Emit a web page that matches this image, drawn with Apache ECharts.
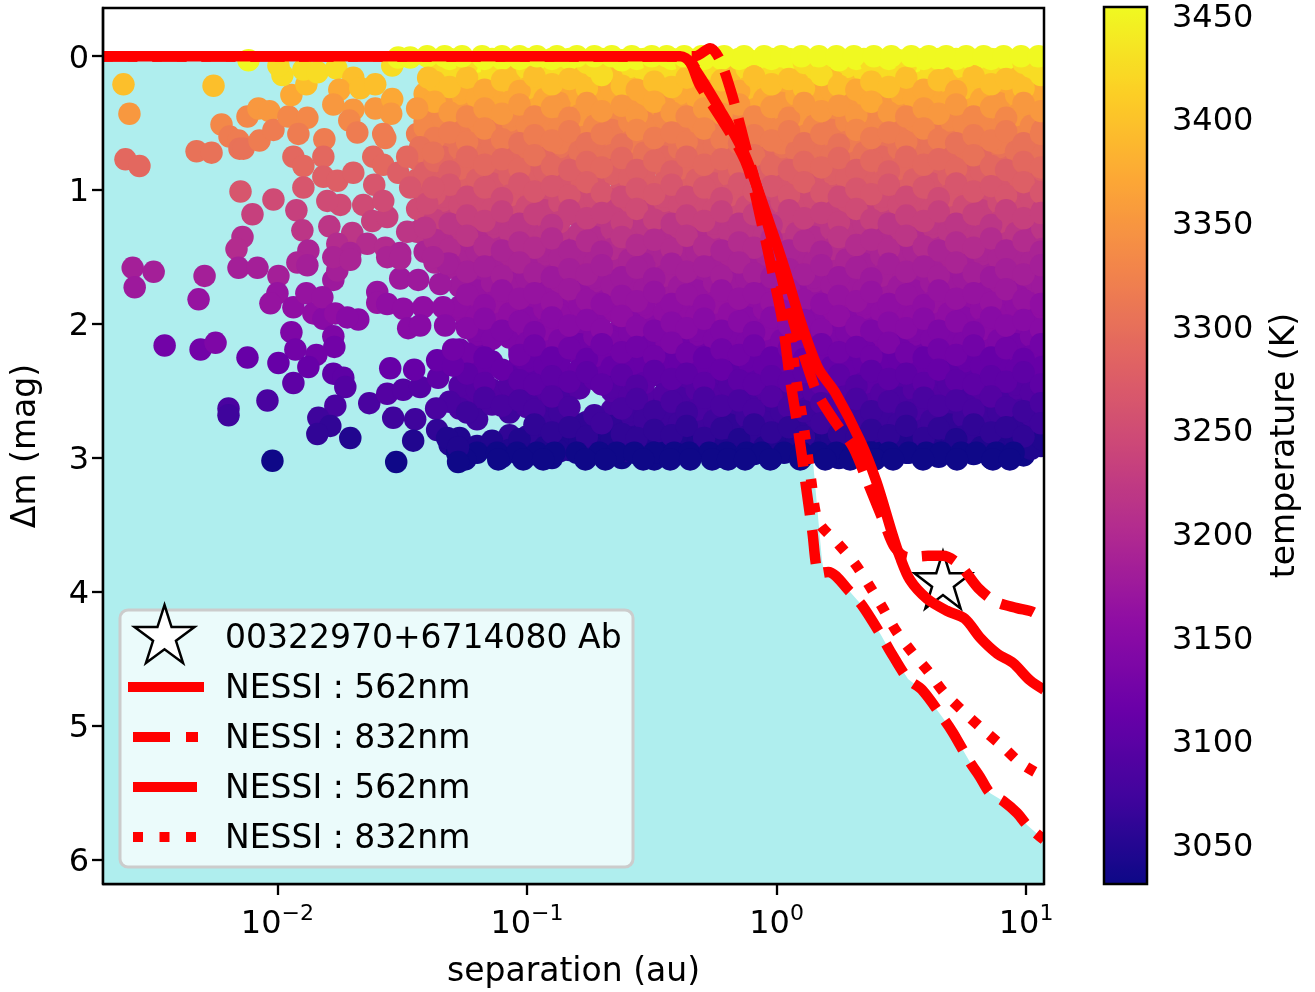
<!DOCTYPE html>
<html><head><meta charset="utf-8">
<script src="https://cdn.jsdelivr.net/npm/echarts@6/dist/echarts.min.js"></script>
<style>html,body{margin:0;padding:0;background:#fff}#c{width:1315px;height:992px}</style>
</head><body><div id="c"></div>
<script>
// All separations are log10(au), all contrasts are magnitudes.
const xMajor = [0.01, 0.1, 1, 10];
const xMinor = [0.003,0.004,0.005,0.006,0.007,0.008,0.009,0.02,0.03,0.04,0.05,0.06,0.07,0.08,0.09,0.2,0.3,0.4,0.5,0.6,0.7,0.8,0.9,2,3,4,5,6,7,8,9];
const yTicks = [0,1,2,3,4,5,6];
const tempTicks = [3050,3100,3150,3200,3250,3300,3350,3400,3450];
const plasma = ['#0d0887','#41049d','#6a00a8','#8f0da4','#b12a90','#cc4778','#e16462','#f2844b','#fca636','#fcce25','#f0f921'];

// temperature (K) seen at each 0.1 mag of contrast
const rowTemp = [3454,3425,3396,3372,3352,3332,3316,3303,3290,3277,3264,3248,3233,3218,3203,3192,3184,3175,3167,3159,3150,3138,3125,3113,3103,3093,3083,3072,3060,3047,3033,3033];

// dense part of the cloud, estimated: one row per 0.1 mag, filled from rowStart rightwards
const rowStart = [-1.40,-1.40,-1.38,-1.41,-1.42,-1.44,-1.42,-1.44,-1.41,-1.45,-1.42,-1.40,-1.44,-1.45,-1.42,-1.40,-1.33,-1.30,-1.27,-1.30,-1.25,-1.23,-1.27,-1.25,-1.27,-1.24,-1.32,-1.08,-1.08,-1.33];
const colsA = [-1.51,-1.44,-1.37,-1.31,-1.24,-1.17,-1.10,-1.03,-0.97,-0.90,-0.83,-0.76,-0.70,-0.62,-0.56,-0.49,-0.42,-0.36,-0.29,-0.22,-0.15,-0.09,-0.02,0.05,0.11,0.18,0.25,0.32,0.38,0.45,0.52,0.59,0.65,0.72,0.79,0.86,0.92,0.99,1.06];
const colsB = [-1.48,-1.41,-1.34,-1.27,-1.20,-1.14,-1.07,-1.00,-0.93,-0.87,-0.79,-0.73,-0.66,-0.59,-0.53,-0.45,-0.39,-0.32,-0.25,-0.19,-0.12,-0.05,0.02,0.08,0.15,0.22,0.28,0.35,0.42,0.49,0.55,0.62,0.69,0.75,0.82,0.89,0.96,1.02,1.065];
const colShift = [.03,-.04,.05,-.02,.06,-.05,.01,-.03,.04,-.06,.02,.05,-.01];
// openings visible in the cloud: [row, from log10 sep, to log10 sep]
const holes = [[21,-1.13,-1.06],[22,-1.13,-1.06],[23,-1.13,-1.06],[25,-.8,-.7],[26,-.8,-.7],[27,-1.09,-.97]];
const topRow = [-1.40,-1.33,-1.26,-1.18,-1.1,-1.03,-.96,-.88,-.8,-.73,-.66,-.58,-.5,-.44,-.37,-.3,-.21,-.13,-.05,.02,.1,.17,.24,.31,.39,.46,.54,.61,.68,.76,.83,.91,.98,1.05];
const lastRow = [-1.28,-1.2,-1.12,-1.04,-.96,-.89,-.8,-.71,-.64,-.57,-.49,-.41,-.35,-.27,-.2,-.12,-.06,.03,.1,.17,.24,.31,.38,.45,.53,.6,.66,.74,.8,.88,.95];
const bottomRow = [-1.247,-1.115,-1.015,-0.935,-0.766,-0.686,-0.534,-0.426,-0.346,-0.258,-0.194,-0.126,-0.025,0.095,0.195,0.295,0.395,0.467,0.587,0.723,0.867,0.935];

// sparse points at the left of the cloud: [log10 sep, dm]
const sparse = [[-2.617,.21],[-2.256,.22],[-2.116,.03],[-2.593,.43],[-2.609,.77],[-2.553,.82],[-2.324,.71],[-2.264,.72],[-2.224,.51],[-2.192,.60],[-2.156,.63],[-2.152,.69],[-2.136,.69],[-2.072,.63],[-2.12,.45],[-2.076,.39],[-2.032,.41],[-2.016,.55],[-1.956,.45],[-1.88,.46],[-1.916,.58],[-1.944,.29],[-1.884,.21],[-1.98,.14],[-1.996,.07],[-1.896,.10],[-1.84,.12],[-1.764,.09],[-1.696,.16],[-1.752,.25],[-1.776,.36],[-1.668,.24],[-1.608,.21],[-1.696,.40],[-1.712,.48],[-1.68,.57],[-1.608,.39],[-1.54,.32],[-1.544,.43],[-1.812,.62],[-1.816,.75],[-1.936,.75],[-1.896,.82],[-1.816,.90],[-1.76,.93],[-1.696,.87],[-1.616,.75],[-1.576,.81],[-1.516,.87],[-1.568,.61],[-1.576,.58],[-1.612,.96],[-1.896,.98],[-1.748,1.11],[-1.8,1.08],[-1.656,1.11],[-2.148,1.01],[-2.016,1.07],[-2.1,1.18],[-1.924,1.15],[-1.9,1.30],[-1.792,1.27],[-2.14,1.35],[-2.164,1.44],[-1.876,1.45],[-1.7,1.32],[-1.62,1.23],[-1.56,1.20],[-1.576,1.08],[-1.48,1.31],[-1.408,1.28],[-1.76,1.40],[-1.64,1.40],[-1.568,1.43],[-1.508,1.47],[-1.708,1.47],[-1.4,1.10],[-1.468,.98],[-1.376,.98],[-1.428,.68],[-1.376,.72],[-1.48,.75],[-1.44,.39],[-1.396,.16],[-1.54,.07],[-1.516,.01],[-1.468,.01],
[-2.58,1.58],[-2.572,1.725],[-2.496,1.61],[-2.292,1.64],[-2.316,1.815],[-2.452,2.16],[-2.308,2.19],[-2.248,2.14],[-2.12,2.25],[-2.04,2.57],[-2.196,2.63],[-2.196,2.68],[-2.02,3.02],[-1.524,3.03],[-2.156,1.58],[-2.08,1.58],[-1.996,1.64],[-2,1.77],[-2.028,1.845],[-1.936,1.875],[-1.884,1.77],[-1.92,1.54],[-1.88,1.56],[-1.776,1.67],[-1.76,1.60],[-1.856,1.92],[-1.816,1.96],[-1.82,1.80],[-1.768,1.92],[-1.676,1.965],[-1.72,1.95],[-1.944,2.06],[-1.928,2.19],[-1.776,2.09],[-1.772,2.17],[-1.844,2.23],[-1.876,2.32],[-1.996,2.29],[-1.936,2.44],[-1.776,2.37],[-1.736,2.40],[-1.728,2.47],[-1.768,2.61],[-1.836,2.70],[-1.788,2.76],[-1.84,2.82],[-1.708,2.85],[-1.632,2.59],[-1.56,2.52],[-1.496,2.49],[-1.428,2.47],[-1.548,2.33],[-1.452,2.34],[-1.536,2.70],[-1.448,2.71],[-1.456,2.87],[-1.364,2.63],[-1.36,2.79],[-1.32,2.85],[-1.276,2.92],[-1.276,3.03],[-1.356,2.40],[-1.36,2.27],[-1.296,2.31],[-1.296,2.19],[-1.6,1.76],[-1.6,1.84],[-1.56,1.85],[-1.496,1.885],[-1.416,1.875],[-1.336,1.875],[-1.476,2.03],[-1.428,2.01],[-1.328,2.01],[-1.508,1.66],[-1.436,1.67],[-1.348,1.70],[-1.32,1.55],[-1.776,1.50],[-1.708,1.52],[-1.56,1.50],[-1.508,1.51],[-1.376,1.50]];

// detection limits: [log10 sep, dm]
const solid562 = [[-2.697,0],[-.386,0],[-.346,.045],[-.226,.40],[-.126,.74],[-.026,1.26],[.035,1.60],[.095,1.97],[.167,2.33],[.235,2.51],[.335,2.87],[.399,3.17],[.463,3.56],[.495,3.74],[.535,3.91],[.603,4.05],[.683,4.14],[.755,4.20],[.815,4.34],[.884,4.46],[.948,4.53],[1.016,4.66],[1.072,4.73]];
const dashed832 = [[-2.697,0],[-.378,0],[-.326,0],[-.266,-.06],[-.226,.03],[-.178,.29],[-.126,.66],[-.098,.85],[-.018,1.37],[.055,1.90],[.123,2.31],[.167,2.53],[.235,2.73],[.307,2.92],[.367,3.19],[.435,3.50],[.475,3.67],[.527,3.74],[.607,3.73],[.667,3.73],[.735,3.80],[.808,3.97],[.876,4.07],[.964,4.12],[1.028,4.15],[1.072,4.21]];
const lowerDashed = [[-2.697,0],[-.378,0],[-.306,.22],[-.126,.78],[-.058,1.26],[-.018,1.60],[.023,1.97],[.055,2.42],[.087,2.79],[.115,3.17],[.143,3.54],[.171,3.86],[.207,3.85],[.295,4.00],[.343,4.10],[.415,4.31],[.455,4.44],[.527,4.65],[.583,4.73],[.667,4.94],[.707,5.05],[.775,5.27],[.815,5.38],[.855,5.50],[.908,5.56],[.964,5.65],[1.004,5.74],[1.072,5.85]];
const lowerDotted = [[-2.697,0],[-.378,0],[-.286,.25],[-.114,.78],[-.042,1.26],[.003,1.60],[.047,1.97],[.079,2.42],[.111,2.79],[.139,3.17],[.167,3.47],[.247,3.64],[.315,3.79],[.371,3.95],[.423,4.11],[.479,4.29],[.543,4.45],[.607,4.59],[.671,4.75],[.747,4.89],[.823,5.02],[.904,5.15],[.980,5.28],[1.072,5.38]];
const fillEdge = [[-2.697,0],[-.38,0],[-.126,.78],[.023,1.97],[.087,2.79],[.147,3.04],[.182,3.76],[.19,3.85],[.295,4.00],[.343,4.10],[.415,4.31],[.455,4.44],[.527,4.65],[.583,4.73],[.667,4.94],[.707,5.05],[.775,5.27],[.815,5.38],[.855,5.50],[.908,5.56],[.964,5.65],[1.004,5.74],[1.072,5.85]];
const starPoint = [0.667, 3.91];
const starName = '00322970+6714080 Ab';
const legendNames = ['NESSI : 562nm','NESSI : 832nm','NESSI : 562nm','NESSI : 832nm'];

const FONT = 'DejaVu Sans';
const STAR = 'M50 0L61.2 34.5L97.6 34.5L68.2 55.9L79.4 90.5L50 69.1L20.6 90.5L31.8 55.9L2.4 34.5L38.8 34.5Z';
const STAR_OUTLINE = [[50,0],[61.2,34.5],[97.6,34.5],[68.2,55.9],[79.4,90.5],[50,69.1],[20.6,90.5],[31.8,55.9],[2.4,34.5],[38.8,34.5]];
const toAu = p => [Math.pow(10, p[0]), p[1]];

const cloud = [];
const addRow = (r, cols, offset) => {
  cols.forEach((c, i) => {
    if (c < rowStart[r]) return;
    if (holes.some(h => h[0] === r && c >= h[1] && c <= h[2])) return;
    const dm = Math.max(0.02, r / 10 + offset + colShift[(i + r * 5) % colShift.length]);
    cloud.push([Math.pow(10, c), dm, rowTemp[Math.round(dm * 10)]]);
  });
};
for (let r = rowStart.length - 1; r >= 0; r -= 2) addRow(r, colsA, 0.05);
for (let r = rowStart.length - 2; r >= 0; r -= 2) addRow(r, colsB, 0.05);
for (let r = 1; r < rowStart.length; r += 2) addRow(r, colsB, 0);
for (let r = 0; r < rowStart.length; r += 2) addRow(r, colsA, 0);
topRow.forEach(c => cloud.push([Math.pow(10, c), 0.0, rowTemp[0]]));
lastRow.forEach(c => cloud.push([Math.pow(10, c), 2.96, rowTemp[30]]));
bottomRow.forEach(c => cloud.push([Math.pow(10, c), 3.01, rowTemp[30]]));
sparse.forEach(p => cloud.push([Math.pow(10, p[0]), p[1], rowTemp[Math.round(p[1] * 10)]]));

const redLine = (name, data, type) => ({
  name, type: 'line', data: data.map(toAu), symbol: 'none', z: 4, silent: true,
  smooth: 0.3,
  lineStyle: { color: '#ff0000', width: 10.5, type, cap: 'butt', join: 'round' }
});

const chart = echarts.init(document.getElementById('c'), null, { renderer: 'canvas' });
const txt = { color: '#000', fontFamily: FONT };
const tickLine = { color: '#000', width: 2.3 };
const nudged = { n: { ...txt, fontSize: 32, padding: [6, 0, 0, 0] } };

const legendY = [637, 687, 737, 787, 837];
const legendText = [starName].concat(legendNames).map((t, i) => ({
  type: 'text', z: 7, style: { x: 225, y: legendY[i] + 2, text: t, fill: '#000', font: '33px "DejaVu Sans"', verticalAlign: 'middle' }
}));
const legLine = (x1, x2, y, dash) => ({
  type: 'line', z: 7, shape: { x1, y1: y, x2, y2: y },
  style: { stroke: '#ff0000', lineWidth: 10, lineDash: dash || null }
});

chart.setOption({
  animation: false,
  backgroundColor: '#fff',
  textStyle: { fontFamily: FONT },
  grid: [
    { left: 103, top: 8, width: 941, height: 876, show: true, backgroundColor: 'transparent', borderColor: '#000', borderWidth: 2.5, z: 10, containLabel: false, outerBoundsMode: 'none' },
    { left: 1104, top: 7, width: 43, height: 877, show: true, backgroundColor: 'transparent', borderColor: '#000', borderWidth: 2.5, z: 10, containLabel: false, outerBoundsMode: 'none' }
  ],
  xAxis: [
    { type: 'log', gridIndex: 0, position: 'bottom', logBase: 10, min: 0.002, max: 11.8,
      name: 'separation (au)', nameLocation: 'middle', nameGap: 72,
      nameTextStyle: { ...txt, fontSize: 33 },
      axisLine: { show: true, onZero: false, lineStyle: tickLine },
      axisTick: { show: true, length: 11, lineStyle: tickLine, customValues: xMajor },
      axisLabel: { show: true, customValues: xMajor, margin: 19, ...txt, fontSize: 32,
        formatter: v => '10{s|' + String(Math.round(Math.log10(v))).replace('-', '\u2212') + '}',
        rich: { s: { ...txt, fontSize: 22, verticalAlign: 'top', lineHeight: 44, padding: [0, 0, 14, 0] } } },
      splitLine: { show: false }, minorTick: { show: false }, minorSplitLine: { show: false } },
    { type: 'log', gridIndex: 0, position: 'bottom', logBase: 10, min: 0.002, max: 11.8,
      axisLine: { show: false },
      axisTick: { show: true, length: 6, lineStyle: { color: '#000', width: 1.8 }, customValues: xMinor },
      axisLabel: { show: false }, splitLine: { show: false } },
    { type: 'value', gridIndex: 1, min: 0, max: 1, show: false }
  ],
  yAxis: [
    { type: 'value', gridIndex: 0, inverse: true, min: -0.36, max: 6.18,
      name: '\u0394m (mag)', nameLocation: 'middle', nameGap: 60, nameRotate: 90,
      nameTextStyle: { ...txt, fontSize: 33 },
      axisLine: { show: true, onZero: false, lineStyle: tickLine },
      axisTick: { show: true, length: 11, lineStyle: tickLine, customValues: yTicks },
      axisLabel: { show: true, customValues: yTicks, margin: 14, ...txt, fontSize: 32, formatter: v => '{n|' + v + '}', rich: nudged },
      splitLine: { show: false } },
    { type: 'value', gridIndex: 1, position: 'right', min: 3031, max: 3454,
      name: 'temperature (K)', nameLocation: 'middle', nameGap: 122, nameRotate: 90,
      nameTextStyle: { ...txt, fontSize: 33 },
      axisLine: { show: false },
      axisTick: { show: true, length: 11, lineStyle: tickLine, customValues: tempTicks },
      axisLabel: { show: true, customValues: tempTicks, margin: 25, ...txt, fontSize: 32, formatter: v => '{n|' + v + '}', rich: nudged },
      splitLine: { show: false } }
  ],
  visualMap: [{
    type: 'continuous', seriesIndex: 1, dimension: 2, min: 3031, max: 3454,
    left: 1104, top: 7, itemWidth: 43, itemHeight: 877, padding: 0, text: null,
    calculable: false, hoverLink: false, showLabel: false, inRange: { color: plasma }
  }],
  series: [
    { name: 'limit', type: 'line', data: fillEdge.map(toAu), symbol: 'none', z: 1, silent: true,
      lineStyle: { width: 0, opacity: 0 }, areaStyle: { color: '#afeeee', opacity: 1, origin: 'end' } },
    { name: 'stars', type: 'scatter', data: cloud, symbol: 'circle', symbolSize: 22.5, z: 2, silent: true,
      progressive: 0, large: false, itemStyle: { opacity: 1 } },
    { name: starName, type: 'scatter', data: [toAu(starPoint)], symbol: 'path://' + STAR, symbolSize: [57, 57], z: 3, silent: true,
      itemStyle: { color: '#fff', borderColor: '#000', borderWidth: 2.5, opacity: 1 } },
    redLine(legendNames[3], lowerDotted, [9.5, 15]),
    redLine(legendNames[2], lowerDashed, [34, 15]),
    redLine(legendNames[1], dashed832, [34, 15]),
    redLine(legendNames[0], solid562, 'solid')
  ],
  graphic: { elements: [
    { type: 'rect', z: 5, shape: { x: 1045, y: 0, width: 58, height: 885 }, style: { fill: '#fff' } },
    { type: 'rect', z: 6, shape: { x: 120, y: 610, width: 513, height: 257, r: 8 }, style: { fill: 'rgba(255,255,255,0.75)', stroke: '#cccccc', lineWidth: 3 } },
    { type: 'polygon', z: 7, shape: { points: STAR_OUTLINE.map(p => [133 + p[0] * 0.63, 605 + p[1] * 0.64]) }, style: { fill: '#fff', stroke: '#000', lineWidth: 2.5 } },
    legLine(128, 204, 687),
    legLine(133, 198, 737, [37, 16]),
    legLine(133, 197, 787),
    legLine(133, 196, 837, [10, 16.5])
  ].concat(legendText) }
});
</script></body></html>
